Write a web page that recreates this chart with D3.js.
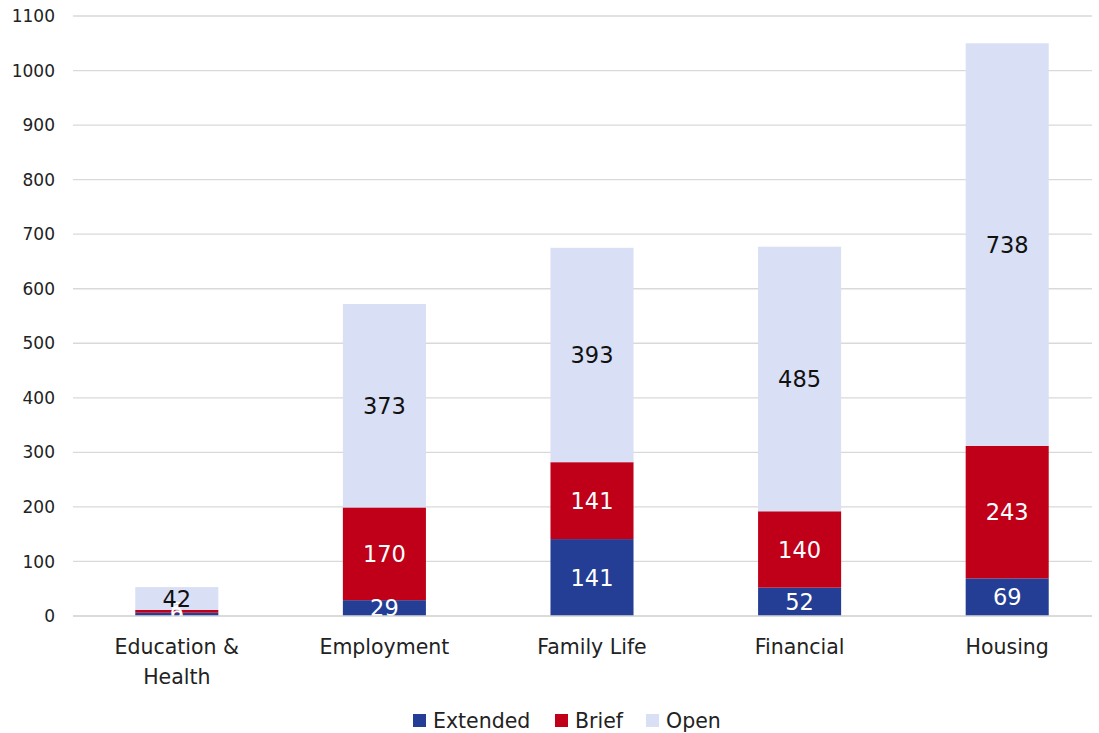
<!DOCTYPE html>
<html lang="en">
<head>
    <meta charset="UTF-8">
    <title>Stacked Bar Chart</title>
    <script src="https://d3js.org/d3.v7.min.js"></script>
    <style>
        body { margin: 0; background: #fff; }
        text { font-family: "DejaVu Sans", "Liberation Sans", sans-serif; }
    </style>
</head>
<body>
    <script>
        // Data
        const categories = ["Education & Health", "Employment", "Family Life", "Financial", "Housing"];
        const extended = [6, 29, 141, 52, 69];
        const brief = [5, 170, 141, 140, 243];
        const open = [42, 373, 393, 485, 738];
        const seriesNames = ["Extended", "Brief", "Open"];
        const colors = ["#233E94", "#C00018", "#D9DFF5"];
        const labelColors = ["#fff", "#fff", "#111"];
        const yTicks = d3.range(0, 1101, 100);

        const width = 1099, height = 733;

        const rows = categories.map((c, i) => ({
            cat: c, Extended: extended[i], Brief: brief[i], Open: open[i]
        }));

        const svg = d3.select("body").append("svg")
            .attr("width", width)
            .attr("height", height);

        const x = d3.scaleBand()
            .domain(categories)
            .range([73, 1111])
            .paddingInner(0.6)
            .paddingOuter(0.3);

        const y = d3.scaleLinear()
            .domain([0, 1100])
            .range([616, 16]);

        // Gridlines
        svg.append("g")
            .selectAll("line")
            .data(yTicks)
            .enter()
            .append("line")
            .attr("x1", 73)
            .attr("x2", 1092)
            .attr("y1", d => y(d))
            .attr("y2", d => y(d))
            .attr("stroke", "#d9d9d9")
            .attr("stroke-width", 1.3);

        // Y tick labels
        svg.append("g")
            .selectAll("text")
            .data(yTicks)
            .enter()
            .append("text")
            .attr("x", 55)
            .attr("y", d => y(d))
            .attr("dy", "0.36em")
            .attr("text-anchor", "end")
            .attr("font-size", 17)
            .attr("fill", "#222")
            .text(d => d);

        // Stacks
        const stacked = d3.stack().keys(seriesNames)(rows);

        const layers = svg.append("g")
            .selectAll("g")
            .data(stacked)
            .enter()
            .append("g")
            .attr("fill", (d, i) => colors[i]);

        layers.selectAll("rect")
            .data(d => d)
            .enter()
            .append("rect")
            .attr("x", d => x(d.data.cat))
            .attr("width", x.bandwidth())
            .attr("y", d => y(d[1]))
            .attr("height", d => y(d[0]) - y(d[1]));

        // Value labels
        stacked.forEach((layer, li) => {
            svg.append("g")
                .selectAll("text")
                .data(layer)
                .enter()
                .append("text")
                .attr("x", d => x(d.data.cat) + x.bandwidth() / 2)
                .attr("y", d => y((d[0] + d[1]) / 2))
                .attr("dy", "0.36em")
                .attr("text-anchor", "middle")
                .attr("font-size", 22.5)
                .attr("fill", labelColors[li])
                .text(d => d[1] - d[0]);
        });

        // X axis line
        svg.append("line")
            .attr("x1", 73).attr("x2", 1092)
            .attr("y1", y(0)).attr("y2", y(0))
            .attr("stroke", "#d9d9d9")
            .attr("stroke-width", 1.3);

        // Category labels
        const catLabels = svg.append("g")
            .selectAll("text")
            .data(categories)
            .enter()
            .append("text")
            .attr("x", d => x(d) + x.bandwidth() / 2)
            .attr("y", 654)
            .attr("text-anchor", "middle")
            .attr("font-size", 20.5)
            .attr("fill", "#222");

        catLabels.each(function(d) {
            const t = d3.select(this);
            const parts = d === "Education & Health" ? ["Education &", "Health"] : [d];
            parts.forEach((p, i) => {
                t.append("tspan")
                    .attr("x", x(d) + x.bandwidth() / 2)
                    .attr("dy", i === 0 ? 0 : 30)
                    .text(p);
            });
        });

        // Legend
        const legendX = [413, 555, 646];
        const legend = svg.append("g")
            .selectAll("g")
            .data(seriesNames)
            .enter()
            .append("g")
            .attr("transform", (d, i) => `translate(${legendX[i]}, 721)`);

        legend.append("rect")
            .attr("x", 0)
            .attr("y", -7)
            .attr("width", 13)
            .attr("height", 13)
            .attr("fill", (d, i) => colors[i]);

        legend.append("text")
            .attr("x", 20)
            .attr("y", 0)
            .attr("dy", "0.36em")
            .attr("font-size", 20.5)
            .attr("fill", "#222")
            .text(d => d);
    </script>
</body>
</html>
